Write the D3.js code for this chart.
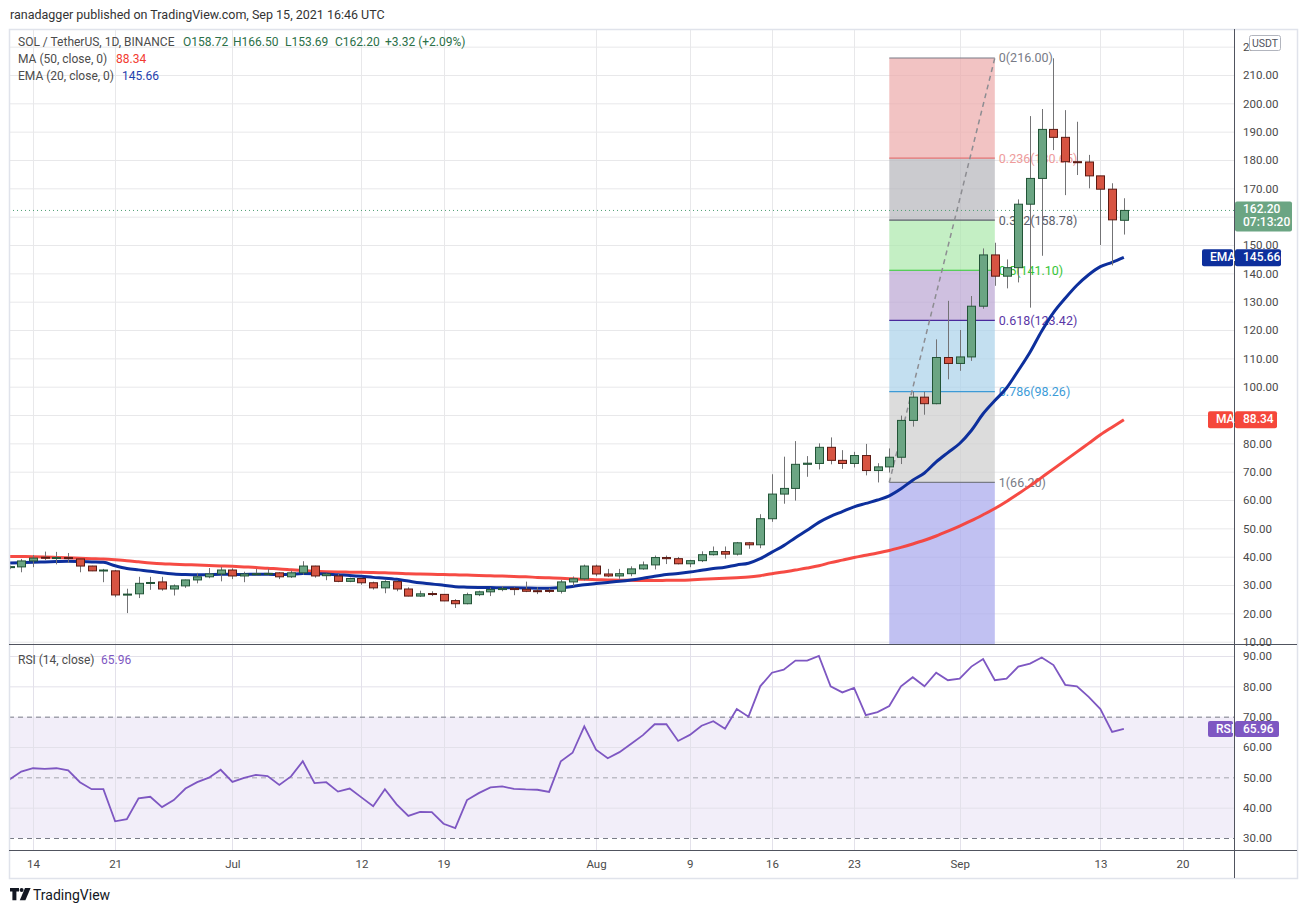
<!DOCTYPE html>
<html>
<head>
<meta charset="utf-8">
<script src="https://d3js.org/d3.v7.min.js"></script>
<style>
  html, body { margin: 0; padding: 0; background: #fff; }
  svg { display: block; font-family: Roboto, "Liberation Sans", sans-serif; }
</style>
</head>
<body>
<svg id="chart" width="1306" height="912"></svg>
<script>
// daily candles, Jun 12 -> Sep 15 2021 (SOL / USDT, Binance)
const firstDay = Date.UTC(2021, 5, 12);
const opens = [
  36.2, 36.4, 38.5, 39.8, 39.5, 39.7, 39.2, 36.7, 35.1, 35.0,
  26.6, 26.9, 30.7, 31.1, 28.6, 29.7, 31.8, 32.9, 33.9,
  35.3, 33.2, 33.9, 34.0, 34.3, 32.9, 34.3, 36.7, 33.3, 33.2,
  31.3, 32.3, 30.8, 29.0, 31.2, 28.6, 26.1, 27.0, 26.7, 24.5,
  23.4, 26.6, 27.6, 28.4, 28.8, 28.5, 28.0, 28.1, 27.8, 31.1, 32.2,
  36.7, 33.9, 33.2, 34.0, 35.7, 37.1, 39.7, 39.3, 37.5, 38.6,
  40.7, 41.8, 40.9, 44.9, 44.2, 53.4, 62.1, 64.1, 72.6, 72.9,
  78.6, 74.0, 72.9, 75.7, 70.4, 71.7, 75.1, 88.1, 96.3, 94.0, 110.3,
  108.2, 110.5, 128.4, 146.5, 139.0, 142.0, 164.4, 173.5, 190.8, 188.0,
  179.4, 179.3, 174.4, 169.7, 158.72
];
const highs = [
  36.9, 39.2, 40.6, 41.8, 41.7, 41.3, 39.3, 36.8, 35.7, 35.3,
  28.7, 32.9, 32.9, 32.9, 30.2, 31.9, 34.3, 36.0, 36.4,
  35.9, 34.7, 35.7, 35.7, 34.5, 35.1, 38.4, 36.8, 34.2, 33.9,
  32.6, 32.6, 31.2, 31.7, 31.7, 29.2, 28.0, 27.8, 26.8, 25.0,
  27.3, 28.0, 29.1, 29.6, 29.2, 31.2, 29.2, 28.9, 31.8, 33.0, 37.2,
  37.2, 35.7, 35.7, 36.6, 38.3, 40.4, 40.4, 39.9, 38.9, 41.9,
  43.6, 43.6, 45.2, 45.2, 55.0, 69.1, 75.3, 80.8, 75.5, 80.0,
  82.1, 77.6, 77.0, 79.8, 73.0, 78.2, 89.8, 98.2, 98.2, 116.7, 130.3,
  120.0, 132.0, 148.8, 150.8, 144.9, 166.1, 195.5, 198.0, 215.9, 197.6,
  193.5, 181.8, 174.4, 171.8, 166.50
];
const lows = [
  35.6, 34.5, 36.3, 38.8, 37.3, 37.8, 34.5, 34.9, 31.0, 25.7,
  20.1, 25.4, 28.3, 28.0, 26.3, 29.0, 30.6, 32.4, 31.3,
  32.1, 31.0, 33.2, 33.3, 32.1, 32.5, 33.6, 32.6, 31.7, 31.0,
  31.0, 30.1, 28.4, 27.1, 27.8, 26.0, 25.8, 26.1, 24.3, 21.9,
  23.2, 26.1, 26.1, 27.8, 26.4, 27.5, 26.8, 27.2, 27.0, 29.6, 31.6,
  33.1, 32.8, 32.2, 33.1, 35.4, 35.5, 37.4, 37.3, 36.3, 38.1,
  40.4, 39.3, 40.4, 42.8, 43.0, 52.3, 58.7, 59.8, 68.2, 70.8,
  72.6, 71.0, 71.5, 68.7, 66.2, 69.7, 72.7, 85.9, 90.1, 93.8, 102.6,
  105.6, 109.1, 127.5, 135.6, 134.7, 136.8, 127.9, 146.2, 183.5, 167.6,
  174.7, 170.0, 150.0, 142.8, 153.69
];
const closes = [
  36.5, 38.5, 39.5, 39.6, 39.7, 39.4, 36.7, 35.0, 35.3, 26.5,
  26.8, 30.6, 30.9, 28.6, 29.7, 31.8, 32.9, 33.9, 35.3,
  33.2, 33.9, 34.0, 34.1, 32.9, 34.3, 36.7, 33.2, 33.9, 31.3,
  32.3, 30.8, 29.0, 31.2, 28.6, 26.1, 26.9, 26.7, 24.4, 23.4,
  26.6, 27.6, 28.4, 28.8, 28.4, 27.8, 27.9, 27.9, 31.1, 32.2, 36.7,
  33.9, 33.2, 34.0, 35.7, 37.1, 39.7, 39.3, 37.5, 38.6, 40.7,
  41.8, 40.9, 44.9, 44.2, 53.4, 62.1, 64.1, 72.6, 73.0, 78.6,
  74.0, 72.9, 75.7, 70.4, 71.7, 75.1, 88.1, 96.3, 94.0, 110.3, 108.2,
  110.5, 128.4, 146.5, 139.0, 142.0, 164.4, 173.5, 190.8, 188.0, 179.4,
  179.3, 174.4, 169.7, 158.88, 162.20
];
// indicators
const ma50 = [
  40.1, 40.05, 40.0, 39.9, 39.75, 39.6, 39.45, 39.3, 39.15, 38.9,
  38.6, 38.2, 37.8, 37.5, 37.35, 37.2, 37.05, 36.9, 36.75,
  36.6, 36.4, 36.2, 35.9, 35.7, 35.4, 35.1, 34.85, 34.7, 34.6,
  34.55, 34.5, 34.4, 34.3, 34.2, 34.0, 33.9, 33.8, 33.7, 33.6,
  33.5, 33.35, 33.25, 33.15, 33.0, 32.9, 32.7, 32.55, 32.4, 32.2, 32.0,
  31.9, 31.8, 31.7, 31.65, 31.6, 31.6, 31.65, 31.7, 31.8, 32.0,
  32.2, 32.4, 32.6, 32.8, 33.3, 34.0, 34.6, 35.3, 36.0, 36.8,
  37.9, 38.8, 39.7, 40.5, 41.3, 42.2, 43.3, 44.5, 45.8, 47.3, 49.0,
  50.8, 52.7, 54.8, 57.0, 59.5, 62.2, 65.0, 68.0, 71.0, 74.0,
  77.0, 80.0, 83.0, 85.7, 88.34
];
const ema20 = [
  37.8, 37.9, 38.0, 38.15, 38.3, 38.4, 38.3, 38.15, 38.0, 36.8,
  35.85, 35.35, 34.9, 34.3, 33.9, 33.7, 33.6, 33.65, 33.8,
  33.75, 33.75, 33.8, 33.8, 33.7, 33.8, 34.05, 34.0, 33.9, 33.6,
  33.4, 33.1, 32.7, 32.4, 32.0, 31.4, 30.8, 30.4, 29.9, 29.4,
  29.25, 29.15, 29.1, 29.05, 29.0, 28.95, 28.9, 28.9, 29.1, 29.5, 30.1,
  30.5, 30.9, 31.3, 31.8, 32.4, 33.1, 33.7, 34.1, 34.6, 35.2,
  35.8, 36.3, 37.1, 37.7, 39.3, 41.6, 43.9, 46.7, 49.3, 52.1,
  54.2, 55.9, 57.6, 58.8, 60.0, 61.5, 64.0, 67.0, 69.55, 73.45, 76.75,
  79.95, 84.55, 90.45, 95.1, 99.55, 105.7, 112.15, 119.65, 126.15, 131.2,
  135.8, 139.5, 142.35, 143.9, 145.66
];
const rsi14 = [
  49.3, 51.9, 53.0, 52.8, 53.0, 52.3, 48.4, 46.1, 46.1, 35.5,
  36.2, 43.1, 43.6, 40.2, 42.5, 46.3, 48.4, 49.9, 52.5,
  48.5, 49.8, 50.8, 50.4, 47.5, 50.3, 55.3, 48.1, 48.4, 45.3,
  46.3, 43.4, 40.5, 46.1, 41.1, 37.3, 38.6, 38.5, 34.7, 33.3,
  42.5, 44.8, 46.7, 47.0, 46.2, 46.0, 45.9, 45.2, 55.3, 58.1, 66.8,
  59.1, 56.3, 58.3, 61.1, 63.9, 67.5, 67.5, 62.0, 64.0, 67.0,
  68.5, 66.0, 72.5, 70.0, 80.0, 84.5, 85.5, 88.5, 88.5, 90.0,
  80.0, 78.0, 79.5, 70.5, 71.5, 73.5, 80.0, 83.0, 80.0, 84.5, 82.0,
  82.5, 86.5, 89.0, 82.0, 82.5, 86.5, 87.5, 89.5, 87.0, 80.5,
  80.0, 76.5, 72.5, 65.0, 65.96
];

// fib retracement drawn from Aug 26 (66.20) to Sep 4 (216.00)
const fibStart = Date.UTC(2021, 7, 26);
const fibEnd = Date.UTC(2021, 8, 4);
const fibRatios = [0, 0.236, 0.382, 0.5, 0.618, 0.786, 1];
const fibPrices = [216.00, 180.65, 158.78, 141.10, 123.42, 98.26, 66.20];
const fibLabels = ["0(216.00)", "0.236(180.65)", "0.382(158.78)", "0.5(141.10)", "0.618(123.42)", "0.786(98.26)", "1(66.20)"];
const fibLineColors = ["#787b86", "#e57373", "#5d606b", "#2fcc2f", "#4a2a9c", "#3d9ad6", "#787b86"];
const fibTextColors = ["#787b86", "#ee9b9b", "#5d606b", "#36c536", "#5a36a6", "#3c9bd8", "#787b86"];
// band colours: between consecutive levels, last one below level 1
const fibFills = ["#eca9a9", "#b5b5ba", "#abe8ab", "#baa5d3", "#a9d1e9", "#cdcdcd", "#a6a6ec"];

const gridTicks = [10, 20, 30, 40, 50, 60, 70, 80, 90, 100, 110, 120, 130, 140, 150, 160, 170, 180, 190, 200, 210, 220];
// 90 and 160 sit under the MA / last-price badges, so they get no label
const priceTicks = [10, 20, 30, 40, 50, 60, 70, 80, 100, 110, 120, 130, 140, 150, 170, 180, 190, 200, 210, 220];
const rsiTicks = [30, 40, 50, 60, 70, 80, 90];
const dateTicks = ["2021-06-14", "2021-06-21", "2021-07-01", "2021-07-12", "2021-07-19", "2021-08-01", "2021-08-09", "2021-08-16", "2021-08-23", "2021-09-01", "2021-09-13", "2021-09-20"];
const dateLabels = ["14", "21", "Jul", "12", "19", "Aug", "9", "16", "23", "Sep", "13", "20"];

const lastClose = 162.20;
const lastEma = 145.66;
const lastMa = 88.34;
const lastRsi = 65.96;

const days = d3.utcDay.range(new Date(firstDay), d3.utcDay.offset(new Date(firstDay), opens.length));
const bars = days.map((d, i) => ({ date: d, o: opens[i], h: highs[i], l: lows[i], c: closes[i] }));

const svg = d3.select("#chart");

// frame geometry
const paneLeft = 9, paneRight = 1234, frameRight = 1297;
const paneTop = 29, paneSplit = 644, rsiBottom = 850, frameBottom = 878;

const x = d3.scaleUtc()
  .domain([new Date(Date.UTC(2021, 5, 14)), new Date(Date.UTC(2021, 8, 20))])
  .range([33, 1182.5]);
const y = d3.scaleLinear().domain([10, 210]).range([641.7, 75]);
const yR = d3.scaleLinear().domain([30, 90]).range([838, 656]);

const tickDates = dateTicks.map(s => new Date(s + "T00:00:00Z"));

// header
svg.append("text")
  .attr("x", 10).attr("y", 19)
  .attr("font-size", 12.5).attr("fill", "#333")
  .text("ranadagger published on TradingView.com, Sep 15, 2021 16:46 UTC");

// clip paths for the two panes and the price scale
const defs = svg.append("defs");
defs.append("clipPath").attr("id", "clipPrice")
  .append("rect").attr("x", paneLeft).attr("y", paneTop).attr("width", paneRight - paneLeft).attr("height", paneSplit - paneTop);
defs.append("clipPath").attr("id", "clipRsi")
  .append("rect").attr("x", paneLeft).attr("y", paneSplit).attr("width", paneRight - paneLeft).attr("height", rsiBottom - paneSplit);

const gPrice = svg.append("g").attr("clip-path", "url(#clipPrice)");
const gRsi = svg.append("g").attr("clip-path", "url(#clipRsi)");

// grid - price pane
gPrice.append("g")
  .selectAll("line").data(gridTicks).join("line")
  .attr("x1", paneLeft).attr("x2", paneRight)
  .attr("y1", d => y(d) + 0.5).attr("y2", d => y(d) + 0.5)
  .attr("stroke", "#e8e8ea");
gPrice.append("g")
  .selectAll("line").data(tickDates).join("line")
  .attr("x1", d => Math.round(x(d)) + 0.5).attr("x2", d => Math.round(x(d)) + 0.5)
  .attr("y1", paneTop).attr("y2", paneSplit)
  .attr("stroke", "#e8e8ea");

// fib bands
const xf0 = x(new Date(fibStart)), xf1 = x(new Date(fibEnd));
const fibBands = fibPrices.map((p, i) => ({
  hi: p,
  lo: i < fibPrices.length - 1 ? fibPrices[i + 1] : null,
  fill: fibFills[i]
}));
gPrice.append("g")
  .selectAll("rect").data(fibBands).join("rect")
  .attr("x", xf0).attr("width", xf1 - xf0)
  .attr("y", d => y(d.hi))
  .attr("height", d => (d.lo === null ? paneSplit : y(d.lo)) - y(d.hi))
  .attr("fill", d => d.fill).attr("fill-opacity", 0.7);
gPrice.append("g")
  .selectAll("line").data(fibPrices).join("line")
  .attr("x1", xf0).attr("x2", xf1)
  .attr("y1", d => y(d)).attr("y2", d => y(d))
  .attr("stroke", (d, i) => fibLineColors[i]).attr("stroke-width", 1.2);
gPrice.append("g")
  .selectAll("text").data(fibPrices).join("text")
  .attr("x", xf1 + 4).attr("y", d => y(d))
  .attr("dy", "0.35em")
  .attr("font-size", 12.5)
  .attr("fill", (d, i) => fibTextColors[i])
  .text((d, i) => fibLabels[i]);
// trend line of the fib tool
gPrice.append("line")
  .attr("x1", xf0).attr("y1", y(fibPrices[6]))
  .attr("x2", xf1).attr("y2", y(fibPrices[0]))
  .attr("stroke", "#8d8d92").attr("stroke-width", 1.5)
  .attr("stroke-dasharray", "5,4");

// last price dotted line
gPrice.append("line")
  .attr("x1", paneLeft).attr("x2", paneRight)
  .attr("y1", y(lastClose)).attr("y2", y(lastClose))
  .attr("stroke", "#4f9e73").attr("stroke-dasharray", "1,3");

// moving averages
const lineFor = vals => d3.line()
  .x((d, i) => x(days[i]))
  .y(d => y(d))
  .curve(d3.curveMonotoneX)(vals);
gPrice.append("path").attr("d", lineFor(ma50))
  .attr("fill", "none").attr("stroke", "#f5413a").attr("stroke-width", 3).attr("stroke-opacity", 0.95);
gPrice.append("path").attr("d", lineFor(ema20))
  .attr("fill", "none").attr("stroke", "#0d2f9c").attr("stroke-width", 3);

// candles
const candle = gPrice.append("g")
  .selectAll("g").data(bars).join("g");
candle.append("line")
  .attr("x1", d => Math.round(x(d.date)) + 0.5).attr("x2", d => Math.round(x(d.date)) + 0.5)
  .attr("y1", d => y(d.h)).attr("y2", d => y(d.l))
  .attr("stroke", "#737375");
candle.append("rect")
  .attr("x", d => Math.round(x(d.date)) - 3.5)
  .attr("width", 8)
  .attr("y", d => y(Math.max(d.o, d.c)))
  .attr("height", d => Math.max(1, Math.abs(y(d.o) - y(d.c))))
  .attr("fill", d => d.c >= d.o ? "#6ba583" : "#d75442")
  .attr("stroke", d => d.c >= d.o ? "#225437" : "#5b1a13")
  .attr("stroke-width", 1);

// RSI pane
gRsi.append("rect")
  .attr("x", paneLeft).attr("width", paneRight - paneLeft)
  .attr("y", yR(70)).attr("height", yR(30) - yR(70))
  .attr("fill", "#7e57c2").attr("fill-opacity", 0.1);
gRsi.append("g")
  .selectAll("line").data([90, 80, 60, 40]).join("line")
  .attr("x1", paneLeft).attr("x2", paneRight)
  .attr("y1", d => yR(d) + 0.5).attr("y2", d => yR(d) + 0.5)
  .attr("stroke", "#e3e1ea");
gRsi.append("g")
  .selectAll("line").data(tickDates).join("line")
  .attr("x1", d => Math.round(x(d)) + 0.5).attr("x2", d => Math.round(x(d)) + 0.5)
  .attr("y1", paneSplit).attr("y2", rsiBottom)
  .attr("stroke", "#e3e1ea");
gRsi.append("g")
  .selectAll("line").data([70, 50, 30]).join("line")
  .attr("x1", paneLeft).attr("x2", paneRight)
  .attr("y1", d => yR(d) + 0.5).attr("y2", d => yR(d) + 0.5)
  .attr("stroke", d => d === 50 ? "#a3a5ad" : "#787b86")
  .attr("stroke-dasharray", "5,4");
gRsi.append("path")
  .attr("d", d3.line().x((d, i) => x(days[i])).y(d => yR(d))(rsi14))
  .attr("fill", "none").attr("stroke", "#7e57c2").attr("stroke-width", 1.8);

// frame and separators
svg.append("rect")
  .attr("x", paneLeft + 0.5).attr("y", paneTop + 0.5)
  .attr("width", frameRight - paneLeft).attr("height", frameBottom - paneTop)
  .attr("fill", "none").attr("stroke", "#e0e3eb").attr("stroke-width", 1.5);
svg.append("line")
  .attr("x1", paneRight + 0.5).attr("x2", paneRight + 0.5).attr("y1", paneTop).attr("y2", frameBottom)
  .attr("stroke", "#50535e");
svg.append("line")
  .attr("x1", paneLeft).attr("x2", frameRight).attr("y1", paneSplit + 0.5).attr("y2", paneSplit + 0.5)
  .attr("stroke", "#50535e");
svg.append("line")
  .attr("x1", paneLeft).attr("x2", frameRight).attr("y1", rsiBottom + 0.5).attr("y2", rsiBottom + 0.5)
  .attr("stroke", "#50535e");

// axes
const axisText = sel => sel.selectAll("text").attr("fill", "#4a4a4a").attr("font-size", 11.5)
  .attr("font-family", "Roboto, 'Liberation Sans', sans-serif");
svg.append("g")
  .attr("transform", `translate(${paneRight},0)`)
  .call(d3.axisRight(y).tickValues(priceTicks).tickFormat(d3.format(".2f")).tickSize(0).tickPadding(9))
  .call(g => g.select(".domain").remove())
  .call(axisText);
svg.append("g")
  .attr("transform", `translate(${paneRight},0)`)
  .call(d3.axisRight(yR).tickValues(rsiTicks).tickFormat(d3.format(".2f")).tickSize(0).tickPadding(9))
  .call(g => g.select(".domain").remove())
  .call(axisText);
svg.append("g")
  .attr("transform", `translate(0,${rsiBottom})`)
  .call(d3.axisBottom(x).tickValues(tickDates).tickFormat((d, i) => dateLabels[i]).tickSize(0).tickPadding(10))
  .call(g => g.select(".domain").remove())
  .call(axisText);

// price scale badges
function badge(xPos, yPos, w, h, fill, lines, textFill, stroke) {
  const g = svg.append("g");
  g.append("rect").attr("x", xPos).attr("y", yPos).attr("width", w).attr("height", h)
    .attr("rx", 2).attr("fill", fill).attr("stroke", stroke || "none");
  lines.forEach((t, i) => {
    g.append("text").attr("x", xPos + 8).attr("y", yPos + 12 + i * 13)
      .attr("font-size", 12).attr("font-weight", 500).attr("fill", textFill).text(t);
  });
  return g;
}
badge(1249.5, 35.5, 31, 15, "#fff", [], "#555", "#b2b5be");
svg.append("text").attr("x", 1265).attr("y", 47).attr("text-anchor", "middle")
  .attr("font-size", 10.5).attr("fill", "#50535e").text("USDT");

const yLast = y(lastClose);
badge(1235, yLast - 9, 57, 30, "#6ba583", [d3.format(".2f")(lastClose), "07:13:20"], "#fff");

const yEma = y(lastEma);
badge(1202, yEma - 8, 31, 17, "#0d2f9c", ["EMA"], "#fff");
badge(1235, yEma - 8, 46, 17, "#0d2f9c", [d3.format(".2f")(lastEma)], "#fff");

const yMa = y(lastMa);
badge(1208, yMa - 8.5, 25, 17, "#f5473b", ["MA"], "#fff");
badge(1235, yMa - 8.5, 42, 17, "#f5473b", [d3.format(".2f")(lastMa)], "#fff");

const yRsiLast = yR(lastRsi);
badge(1208, yRsiLast - 8, 25, 16, "#7e57c2", ["RSI"], "#fff");
badge(1235, yRsiLast - 8, 44, 16, "#7e57c2", [d3.format(".2f")(lastRsi)], "#fff");

// legends
const legend = svg.append("g").attr("font-size", 12);
const row1 = legend.append("text").attr("y", 46);
row1.append("tspan").attr("x", 18).attr("fill", "#4c4c4c").text("SOL / TetherUS, 1D, BINANCE");
const ohlc = [["O", opens], ["H", highs], ["L", lows], ["C", closes]];
const ohlcX = [183, 233, 285, 335];
ohlc.forEach(([k, arr], i) => {
  row1.append("tspan").attr("x", ohlcX[i]).attr("fill", "#2b7048")
    .text(k + d3.format(".2f")(arr[arr.length - 1]));
});
row1.append("tspan").attr("x", 385).attr("fill", "#2b7048").text("+3.32 (+2.09%)");

const row2 = legend.append("text").attr("y", 63);
row2.append("tspan").attr("x", 18).attr("fill", "#4c4c4c").text("MA (50, close, 0)");
row2.append("tspan").attr("x", 116).attr("fill", "#f23b30").text(d3.format(".2f")(lastMa));

const row3 = legend.append("text").attr("y", 80);
row3.append("tspan").attr("x", 18).attr("fill", "#4c4c4c").text("EMA (20, close, 0)");
row3.append("tspan").attr("x", 122).attr("fill", "#1f3fae").text(d3.format(".2f")(lastEma));

const row4 = legend.append("text").attr("y", 664);
row4.append("tspan").attr("x", 18).attr("fill", "#4c4c4c").text("RSI (14, close)");
row4.append("tspan").attr("x", 101).attr("fill", "#7e57c2").text(d3.format(".2f")(lastRsi));

// TradingView footer logo
const logo = svg.append("g").attr("fill", "#131722");
logo.append("path").attr("d", "M10 888 h9 v3.6 h-2.6 v8.6 h-4 v-8.6 h-2.4 z");
logo.append("circle").attr("cx", 21.6).attr("cy", 890).attr("r", 2);
logo.append("path").attr("d", "M25 888 h5.6 l-5.2 12.2 h-5.6 z");
svg.append("text").attr("x", 33).attr("y", 899.5)
  .attr("font-size", 14).attr("fill", "#131722").text("TradingView");
</script>
</body>
</html>
